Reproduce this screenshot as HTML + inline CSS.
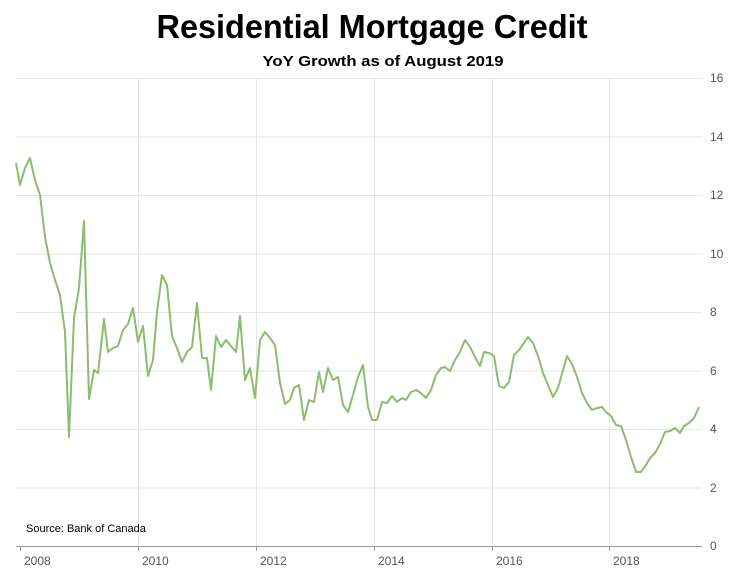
<!DOCTYPE html>
<html><head><meta charset="utf-8"><style>
html,body{margin:0;padding:0;background:#fff;}
svg{display:block;font-family:"Liberation Sans",sans-serif;}
</style></head><body>
<svg width="740" height="580" viewBox="0 0 740 580">
<rect width="740" height="580" fill="#fff"/>
<text x="372" y="38" text-anchor="middle" font-size="33" font-weight="bold" fill="#000" textLength="431" lengthAdjust="spacingAndGlyphs">Residential Mortgage Credit</text>
<text x="383" y="66" text-anchor="middle" font-size="15" font-weight="bold" fill="#000" textLength="241" lengthAdjust="spacingAndGlyphs">YoY Growth as of August 2019</text>
<g stroke="#e6e6e6" stroke-width="1">
<line x1="16" y1="78.5" x2="702" y2="78.5"/>
<line x1="16" y1="137" x2="702" y2="137"/>
<line x1="16" y1="195.5" x2="702" y2="195.5"/>
<line x1="16" y1="254" x2="702" y2="254"/>
<line x1="16" y1="312.5" x2="702" y2="312.5"/>
<line x1="16" y1="371" x2="702" y2="371"/>
<line x1="16" y1="429.5" x2="702" y2="429.5"/>
<line x1="16" y1="488" x2="702" y2="488"/>
<line x1="138.5" y1="78" x2="138.5" y2="546"/>
<line x1="256.5" y1="78" x2="256.5" y2="546"/>
<line x1="374.5" y1="78" x2="374.5" y2="546"/>
<line x1="492.5" y1="78" x2="492.5" y2="546"/>
<line x1="609.5" y1="78" x2="609.5" y2="546"/>
</g>
<line x1="16" y1="546.5" x2="702" y2="546.5" stroke="#999" stroke-width="1"/>
<g stroke="#999"><line x1="20.5" y1="546" x2="20.5" y2="551"/><line x1="138.5" y1="546" x2="138.5" y2="551"/><line x1="256.5" y1="546" x2="256.5" y2="551"/><line x1="374.5" y1="546" x2="374.5" y2="551"/><line x1="492.5" y1="546" x2="492.5" y2="551"/><line x1="609.5" y1="546" x2="609.5" y2="551"/></g>
<g font-size="12" fill="#555">
<text x="24" y="565">2008</text><text x="142" y="565">2010</text><text x="260" y="565">2012</text><text x="378" y="565">2014</text><text x="496" y="565">2016</text><text x="613" y="565">2018</text>
<text x="710" y="82">16</text><text x="710" y="141">14</text><text x="710" y="199">12</text><text x="710" y="258">10</text><text x="710" y="316">8</text><text x="710" y="375">6</text><text x="710" y="433">4</text><text x="710" y="492">2</text><text x="710" y="550">0</text>
</g>
<text x="26" y="532" font-size="11" fill="#000">Source: Bank of Canada</text>
<polyline fill="none" stroke="#8bbd6e" stroke-width="2" stroke-linejoin="round" points="16,163 20,185 25,168 30,158 35,180 40,195 45,237 50,263 55,280 60,295 65,332 69,437 74,318 79,288 84,221 89,399 94,370 98,373 104,319 108,352 113,348 118,346 123,330 128,324 133,308 138,342 143,326 148,376 153,360 157,312 162,275 167,285 172,336 177,348 182,362 187,352 192,347 197,303 202,358 207,358 211,390 216,336 221,347 226,340 231,346 236,352 240,316 245,380 250,368 255,398 260,340 265,332 270,338 275,345 280,383 285,404 290,400 294,388 299,385 304,420 309,400 314,402 319,372 323,392 328,368 333,380 338,377 343,405 348,412 353,395 358,377 363,365 368,407 372,420 377,420 382,402 387,403 392,396 397,402 402,398 406,400 411,392 416,390 421,393 426,398 431,390 436,375 441,368 445,367 450,371 455,360 460,352 465,340 470,347 475,357 480,366 484,352 489,353 494,356 499,386 504,388 509,382 514,355 519,350 524,343 528,337 533,343 538,356 543,373 548,385 553,397 558,388 563,370 567,356 572,364 577,377 582,393 587,403 592,410 597,408 602,407 606,412 611,416 616,425 621,426 626,440 631,457 636,472 641,472 646,465 650,458 655,453 660,444 665,432 670,431 675,428 680,433 684,426 689,423 694,418 699,407"/>
</svg>
</body></html>
